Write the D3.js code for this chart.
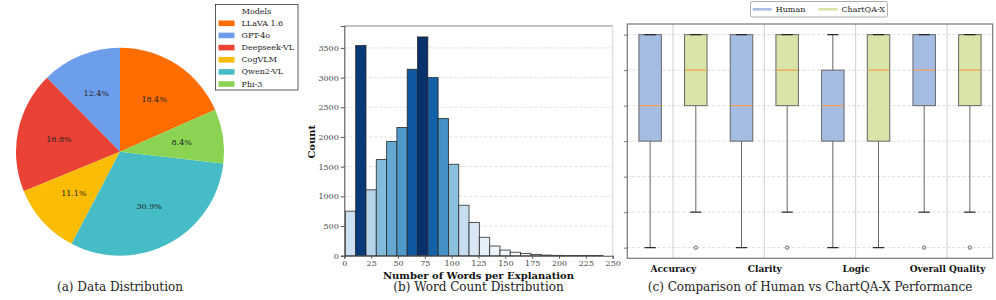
<!DOCTYPE html>
<html><head><meta charset="utf-8">
<script src="https://cdn.jsdelivr.net/npm/d3@7"></script>
<style>
body{margin:0;background:#fff;}
svg{display:block;font-family:"DejaVu Serif",serif;}
</style></head><body>
<svg id="c" width="996" height="300"></svg>
<script>
// ---------- data ----------
const models = ["LLaVA 1.6","GPT-4o","Deepseek-VL","CogVLM","Qwen2-VL","Phi-3"];
const modelShares = [18.4,12.4,18.8,11.1,30.9,8.4];
const modelColors = ["#ff6d01","#6d9eeb","#ea4335","#fbbc04","#46bdc6","#8bd352"];

const binEdges = [1,10.6,20.2,29.8,39.4,49,58.6,68.2,77.8,87.4,97,106.6,116.2,125.8,135.4,145,154.6,164.2,173.8,183.4,193,202.6,212.2,221.8,231.4,241];
const binCounts = [750,3540,1110,1620,1925,2160,3140,3685,3000,2310,1540,850,560,310,163,95,58,38,22,10,6,4,3,5,4];
const histXTicks = [0,25,50,75,100,125,150,175,200,225,250];
const histYTicks = [0,500,1000,1500,2000,2500,3000,3500];

const categories = ["Accuracy","Clarity","Logic","Overall Quality"];
const groups = ["Human","ChartQA-X"];
const groupColors = ["#a6bde3","#d8e4a8"];
// [whiskerLow, q1, median, q3, whiskerHigh]
const humanStats   = [[1,4,5,7,7],[1,4,5,7,7],[1,4,5,6,7],[2,5,6,7,7]];
const humanOutliers = [[],[],[],[1]];
const chartqaStats = [[2,5,6,7,7],[2,5,6,7,7],[1,4,6,7,7],[2,5,6,7,7]];
const chartqaOutliers = [[1],[1],[],[1]];
const scoreLevels = [1,2,3,4,5,6,7];

const captions = ["(a) Data Distribution","(b) Word Count Distribution","(c) Comparison of Human vs ChartQA-X Performance"];

const svg = d3.select("#c");

// ---------- (a) pie ----------
{
  const cx = 120, cy = 151.7, R = 104;
  const g = svg.append("g").attr("transform",`translate(${cx},${cy})`);
  const total = d3.sum(modelShares);
  const a0 = modelShares[0]/total*2*Math.PI;
  const pie = d3.pie().sort(null).startAngle(a0).endAngle(a0-2*Math.PI);
  const arcs = pie(modelShares);
  const arc = d3.arc().innerRadius(0).outerRadius(R);
  const lab = d3.arc().innerRadius(R*0.6).outerRadius(R*0.6);
  g.selectAll("path").data(arcs).join("path")
    .attr("d",arc).attr("fill",(d,i)=>modelColors[i]);
  g.selectAll("text").data(arcs).join("text")
    .attr("transform",d=>`translate(${lab.centroid(d)})`)
    .attr("text-anchor","middle").attr("dominant-baseline","central")
    .attr("font-size",8).attr("fill","#222")
    .text(d=>d3.format(".1f")(d.data/total*100)+"%");

  const lg = svg.append("g");
  lg.append("rect").attr("x",215.5).attr("y",4.5).attr("width",82.5).attr("height",85.5)
    .attr("fill","#fff").attr("stroke","#333").attr("stroke-width",0.8);
  lg.append("text").attr("x",256.5).attr("y",11.7).attr("text-anchor","middle")
    .attr("dominant-baseline","central").attr("font-size",8).attr("fill","#222").text("Models");
  models.forEach((m,i)=>{
    const yy = 23.3 + i*12.15;
    lg.append("rect").attr("x",218.5).attr("y",yy-2.8).attr("width",16).attr("height",5.6).attr("fill",modelColors[i]);
    lg.append("text").attr("x",241.5).attr("y",yy).attr("dominant-baseline","central")
      .attr("font-size",8).attr("fill","#222").text(m);
  });
  svg.append("text").attr("x",120).attr("y",287).attr("text-anchor","middle")
    .attr("dominant-baseline","central").attr("font-size",12).attr("fill","#222").text(captions[0]);
}

// ---------- (b) histogram ----------
{
  const L = 344.3, Rr = 612.7, T = 26, B = 255.7;
  const xs = d3.scaleLinear().domain([0,250]).range([L,Rr]);
  const maxC = d3.max(binCounts);
  const ys = d3.scaleLinear().domain([0,maxC*1.05]).range([B,T]);
  const g = svg.append("g");
  // grid
  g.selectAll("line.grid").data(histYTicks.slice(1)).join("line")
    .attr("x1",L).attr("x2",Rr).attr("y1",d=>ys(d)).attr("y2",d=>ys(d))
    .attr("stroke","#d4d4d4").attr("stroke-width",0.7).attr("stroke-dasharray","3,2");
  // bars
  g.selectAll("rect.bar").data(binCounts).join("rect")
    .attr("x",(d,i)=>xs(binEdges[i])).attr("width",(d,i)=>xs(binEdges[i+1])-xs(binEdges[i]))
    .attr("y",d=>ys(d)).attr("height",d=>B-ys(d))
    .attr("fill",d=>d3.interpolateBlues(d/maxC))
    .attr("stroke","#222").attr("stroke-width",0.9).attr("stroke-opacity",0.85);
  // spines
  g.append("line").attr("x1",L).attr("x2",Rr).attr("y1",T).attr("y2",T).attr("stroke","#8a8a8a").attr("stroke-width",1);
  g.append("line").attr("x1",Rr).attr("x2",Rr).attr("y1",T).attr("y2",B).attr("stroke","#e2e2e2").attr("stroke-width",1.5);
  const ya = g.append("g").attr("transform",`translate(${L},0)`)
    .call(d3.axisLeft(ys).tickValues(histYTicks).tickSize(3.5).tickPadding(2).tickFormat(d3.format("d")));
  const xa = g.append("g").attr("transform",`translate(0,${B})`)
    .call(d3.axisBottom(xs).tickValues(histXTicks).tickSize(3).tickPadding(1.5).tickFormat(d3.format("d")));
  [ya,xa].forEach(a=>{
    a.select(".domain").attr("stroke","#555").attr("stroke-width",1.1);
    a.selectAll(".tick line").attr("stroke","#555");
    a.selectAll(".tick text").attr("font-family","DejaVu Serif").attr("font-size",8).attr("fill","#444");
  });
  svg.append("text").attr("transform","translate(311.7,141.7) rotate(-90)").attr("text-anchor","middle")
    .attr("dominant-baseline","central").attr("font-size",10).attr("font-weight","bold").attr("fill","#111").text("Count");
  svg.append("text").attr("x",478.5).attr("y",275.7).attr("text-anchor","middle")
    .attr("dominant-baseline","central").attr("font-size",10).attr("font-weight","bold").attr("fill","#111").text("Number of Words per Explanation");
  svg.append("text").attr("x",478.5).attr("y",287.3).attr("text-anchor","middle")
    .attr("dominant-baseline","central").attr("font-size",12).attr("fill","#222").text(captions[1]);
}

// ---------- (c) boxplots ----------
{
  const L = 627.3, Rr = 992.7, T = 24, B = 258.3;
  const xs = d3.scaleLinear().domain([0.5,categories.length+0.5]).range([L,Rr]);
  const ys = d3.scaleLinear().domain([0.7,7.3]).range([B,T]);
  const g = svg.append("g");
  const off = 0.25, bw = 0.246;
  // grids
  g.selectAll("line.hg").data(scoreLevels).join("line")
    .attr("x1",L).attr("x2",Rr).attr("y1",d=>ys(d)).attr("y2",d=>ys(d))
    .attr("stroke","#cfcfcf").attr("stroke-width",0.7).attr("stroke-dasharray","3,2");
  g.selectAll("line.vg").data(categories).join("line")
    .attr("x1",(d,i)=>xs(i+1)).attr("x2",(d,i)=>xs(i+1)).attr("y1",T).attr("y2",B)
    .attr("stroke","#d0d0d0").attr("stroke-width",1);
  const series = [[humanStats,humanOutliers],[chartqaStats,chartqaOutliers]];
  series.forEach(([stats,outs],gi)=>{
    stats.forEach((s,ci)=>{
      const c = ci+1 + (gi===0?-off:off);
      const x0 = xs(c-bw/2), x1 = xs(c+bw/2), xm = xs(c);
      const capW = (x1-x0)/2;
      // whiskers
      g.append("line").attr("x1",xm).attr("x2",xm).attr("y1",ys(s[0])).attr("y2",ys(s[1])).attr("stroke","#666").attr("stroke-width",1);
      g.append("line").attr("x1",xm).attr("x2",xm).attr("y1",ys(s[3])).attr("y2",ys(s[4])).attr("stroke","#666").attr("stroke-width",1);
      // box
      g.append("rect").attr("x",x0).attr("width",x1-x0).attr("y",ys(s[3])).attr("height",ys(s[1])-ys(s[3]))
        .attr("fill",groupColors[gi]).attr("stroke","#666").attr("stroke-width",1);
      // caps
      [s[0],s[4]].forEach(v=>{
        g.append("line").attr("x1",xm-capW/2).attr("x2",xm+capW/2).attr("y1",ys(v)).attr("y2",ys(v))
          .attr("stroke","#222").attr("stroke-width",1.2);
      });
      // median
      g.append("line").attr("x1",x0+0.5).attr("x2",x1-0.5).attr("y1",ys(s[2])).attr("y2",ys(s[2]))
        .attr("stroke","#f2a04c").attr("stroke-width",1.2);
      // outliers
      outs[ci].forEach(v=>{
        g.append("circle").attr("cx",xm).attr("cy",ys(v)).attr("r",1.7)
          .attr("fill","none").attr("stroke","#444").attr("stroke-width",0.8);
      });
    });
  });
  // frame
  g.append("rect").attr("x",L).attr("y",T).attr("width",Rr-L).attr("height",B-T)
    .attr("fill","none").attr("stroke","#777").attr("stroke-width",1.2);
  const ya = g.append("g").attr("transform",`translate(${L},0)`)
    .call(d3.axisLeft(ys).tickValues(scoreLevels).tickSize(3.5).tickFormat(""));
  ya.select(".domain").remove();
  ya.selectAll(".tick line").attr("stroke","#777");
  const xa = g.append("g").attr("transform",`translate(0,${B})`)
    .call(d3.axisBottom(xs).tickValues(categories.map((d,i)=>i+1)).tickSize(0).tickPadding(7.4).tickFormat((d,i)=>categories[i]));
  xa.select(".domain").remove();
  xa.selectAll(".tick text").attr("font-family","DejaVu Serif").attr("font-size",9).attr("font-weight","bold").attr("fill","#111");
  // legend
  const lg = svg.append("g");
  lg.append("rect").attr("x",750.5).attr("y",1.5).attr("width",137).attr("height",15.5).attr("rx",2)
    .attr("fill","#fff").attr("stroke","#999").attr("stroke-width",0.8);
  const lx = [752.7,818.5];
  groups.forEach((gname,i)=>{
    lg.append("line").attr("x1",lx[i]).attr("x2",lx[i]+19).attr("y1",9.3).attr("y2",9.3)
      .attr("stroke",groupColors[i]).attr("stroke-width",2.5);
    lg.append("text").attr("x",lx[i]+23).attr("y",9.3).attr("dominant-baseline","central")
      .attr("font-size",8).attr("fill","#222").text(gname);
  });
  svg.append("text").attr("x",810).attr("y",287.3).attr("text-anchor","middle")
    .attr("dominant-baseline","central").attr("font-size",12).attr("fill","#222").text(captions[2]);
}
</script>
</body></html>
